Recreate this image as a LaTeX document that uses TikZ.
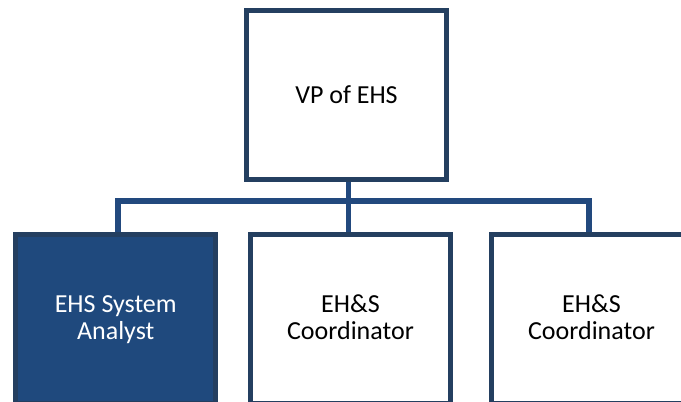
\documentclass[tikz,border=0pt]{standalone}
\usepackage{fontspec}
\setmainfont{Carlito}
\usetikzlibrary{positioning}
\definecolor{boxline}{HTML}{243F60}
\definecolor{boxfill}{HTML}{1F497D}
\definecolor{linkblue}{HTML}{22497E}
\begin{document}
\begin{tikzpicture}[x=1pt, y=-1pt,
    box/.style={rectangle, draw=boxline, line width=5pt, fill=white,
        minimum width=200pt, minimum height=169pt, inner sep=0pt,
        align=center, font=\fontsize{26}{27.5}\selectfont, text=black},
    darkbox/.style={box, fill=boxfill, text=white},
    twoline/.style={text height=46pt, text depth=4pt},
    link/.style={draw=linkblue, line width=5.5pt, line join=miter}]
        \useasboundingbox (0,0) rectangle (681,402);

        \node (vp) [box] at (346.5,95) {VP of EHS};
        \node (analyst) [darkbox, twoline] at (115.75,318.5) {EHS System\\Analyst};
        \node (coordA) [box, twoline] at (350.5,318.5) {EH\&S\\Coordinator};
        \node (coordB) [box, twoline] at (591.5,318.5) {EH\&S\\Coordinator};
        \coordinate (bus) at (348.5,201);

        \path[link]
            ([xshift=2pt]analyst.north) |- (bus) -| ([xshift=-2.5pt]coordB.north)
            (vp.south -| bus) -- (bus |- coordA.north);
\end{tikzpicture}
\end{document}
